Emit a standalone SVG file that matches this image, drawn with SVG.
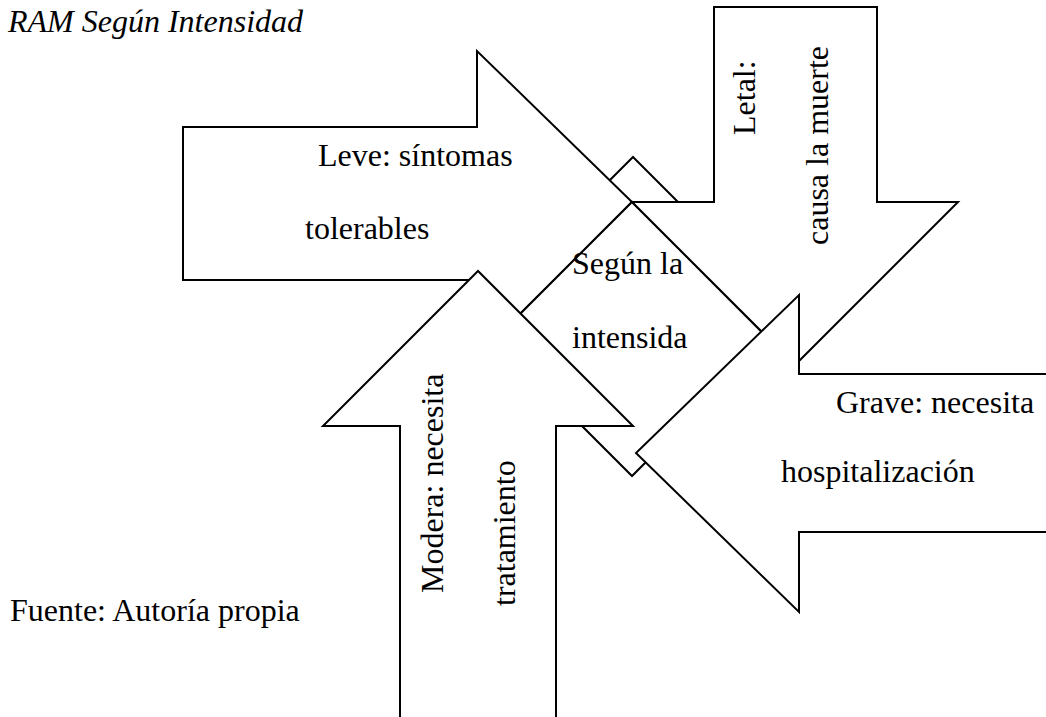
<svg xmlns="http://www.w3.org/2000/svg" width="1046" height="717" viewBox="0 0 1046 717">
<style>
.s{fill:#fff;stroke:#000;stroke-width:2;stroke-linejoin:miter}
.t{font-family:"Liberation Serif","Times New Roman",serif;font-size:32px;fill:#000}
.i{font-style:italic}
</style>
<rect x="0" y="0" width="1046" height="717" fill="#fff"/>
<text class="t i" x="8" y="32">RAM Según Intensidad</text>
<text class="t" x="10" y="621">Fuente: Autoría propia</text>
<g id="connectors"></g>
<g id="back">
<polygon class="s" points="633,157 769.5,293.5 633,430 496.5,293.5"/>
</g>
<g id="leve">
<polygon class="s" points="183,127 477,127 477,51 632,202 477,357 477,280 183,280"/>
<text class="t" x="318" y="166">Leve: síntomas</text>
<text class="t" x="305" y="239">tolerables</text>
</g>
<g id="centro">
<polygon class="s" points="632,202 769,339 632,476 495,339"/>
<text class="t" x="572" y="274">Según la</text>
<text class="t" x="572" y="348">intensida</text>
</g>
<g id="letal">
<polygon class="s" points="714,7 877,7 877,202 958,202 795,365 632,202 714,202"/>
<text class="t" transform="translate(755,135) rotate(-90)">Letal:</text>
<text class="t" transform="translate(828,245) rotate(-90)">causa la muerte</text>
</g>
<g id="moderada">
<polygon class="s" points="400,730 400,426 323,426 478,271 633,426 556,426 556,730"/>
<text class="t" transform="translate(443,593) rotate(-90)">Modera: necesita</text>
<text class="t" transform="translate(515,606) rotate(-90)">tratamiento</text>
</g>
<g id="grave">
<polygon class="s" points="1060,374 799,374 799,295 636,453 799,612 799,532 1060,532"/>
<text class="t" x="836" y="413">Grave: necesita</text>
<text class="t" x="781" y="482">hospitalización</text>
</g>
</svg>
